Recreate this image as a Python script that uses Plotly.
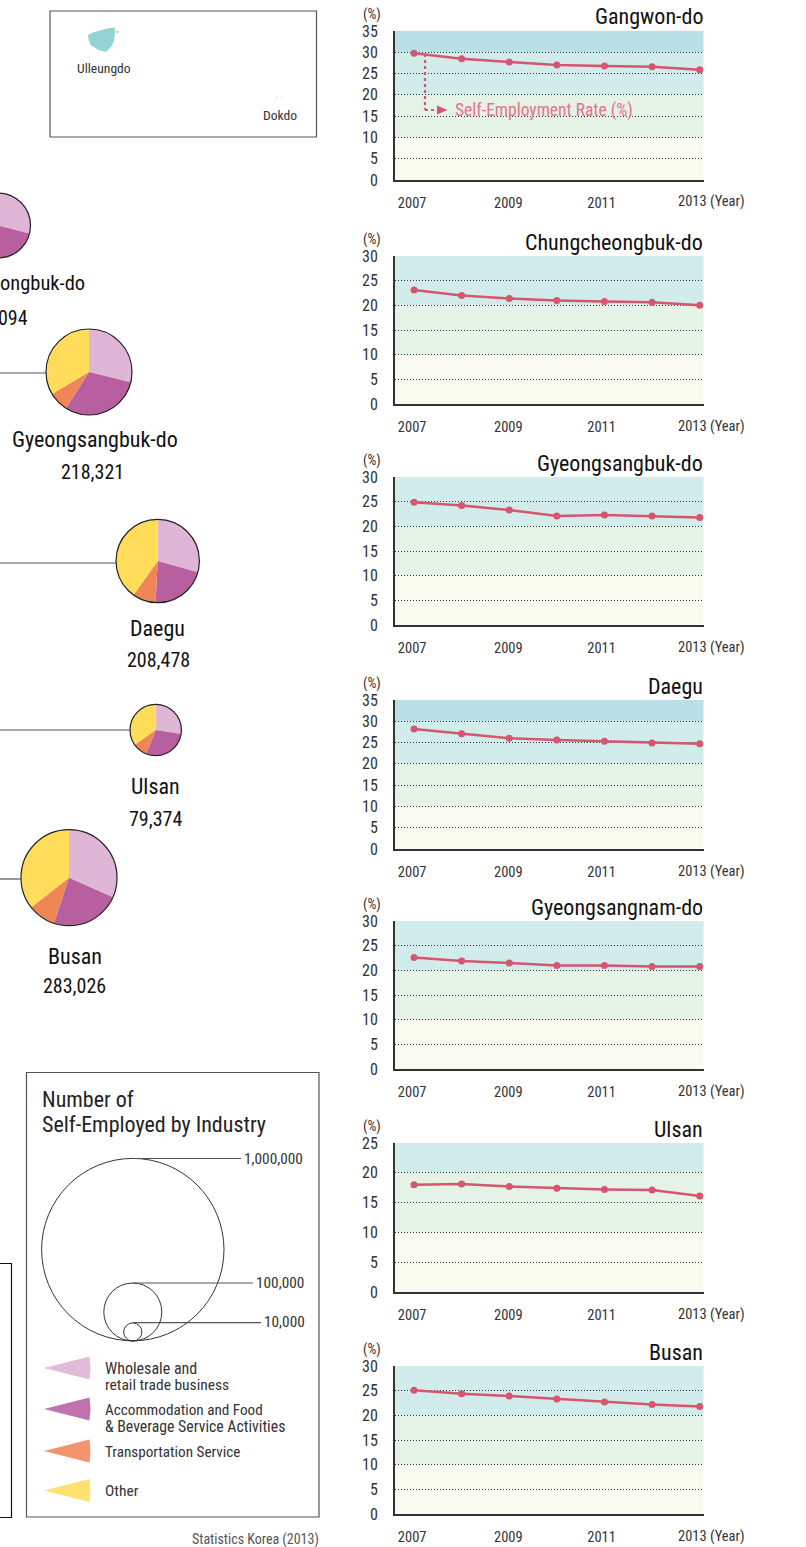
import plotly.graph_objects as go

# ---------- data ----------
years = [2007, 2008, 2009, 2010, 2011, 2012, 2013]
year_tick_pos = [2006.96, 2008.98, 2010.94, 2013]
year_tick_text = ["2007", "2009", "2011", ""]
gangwon = [29.8, 28.5, 27.7, 27.0, 26.8, 26.6, 25.9]
chungbuk = [23.1, 22.0, 21.4, 21.0, 20.8, 20.6, 20.0]
gyeongbuk = [24.9, 24.2, 23.3, 22.1, 22.3, 22.1, 21.8]
daegu = [28.2, 27.1, 26.0, 25.6, 25.3, 24.9, 24.7]
gyeongnam = [22.6, 21.9, 21.5, 21.0, 21.0, 20.8, 20.8]
ulsan = [18.0, 18.1, 17.7, 17.4, 17.2, 17.1, 16.1]
busan = [25.1, 24.4, 23.9, 23.3, 22.7, 22.2, 21.8]

line_names = ["Gangwon-do", "Chungcheongbuk-do", "Gyeongsangbuk-do", "Daegu",
              "Gyeongsangnam-do", "Ulsan", "Busan"]
line_values = [gangwon, chungbuk, gyeongbuk, daegu, gyeongnam, ulsan, busan]
y_max = [35, 30, 30, 35, 30, 25, 30]
band_edges = [0, 10, 20, 30, 40]
band_colors = ["#F9FBF0", "#E5F2E6", "#D2ECEC", "#B9E0E5"]
panel_top = [31, 256, 477, 700, 921, 1143, 1366]
panel_bot = [180, 404, 625, 849, 1069, 1292, 1514]

industries = ["Wholesale and retail trade business",
              "Accommodation and Food & Beverage Service Activities",
              "Transportation Service", "Other"]
pie_colors = ["#DFB6D6", "#B8609F", "#EF8656", "#FFDC5A"]
swatch_colors = ["#E2BBD9", "#BF72AE", "#F2936B", "#FFE170"]
pie_shares = {
    "Chungcheongbuk-do": [29, 28, 9, 34],
    "Gyeongsangbuk-do": [28.8, 30.2, 7.5, 33.5],
    "Daegu": [29.3, 21.5, 9.0, 40.2],
    "Ulsan": [27.5, 28.6, 9.1, 34.8],
    "Busan": [31.7, 23.4, 9.3, 35.6],
}
pie_geom = {  # centre x, centre y, radius, connector y
    "Chungcheongbuk-do": (-2, 225.5, 32.5, None),
    "Gyeongsangbuk-do": (89, 372, 43, 373),
    "Daegu": (157.7, 561, 41.7, 563),
    "Ulsan": (155.7, 730, 25.7, 730),
    "Busan": (69, 877.7, 48, 879),
}

# ---------- pixel helpers ----------
SHIFT = 40
W, H = 806 + SHIFT, 1547
FONT = "Roboto Condensed"
PX = lambda x: (x + SHIFT) / W
PY = lambda y: 1 - y / H

fig = go.Figure()
shapes, annos = [], []


def text(x, y, s, size=15, color="#222", anchor="left"):
    annos.append(dict(xref="paper", yref="paper", x=PX(x), y=PY(y), text=s, showarrow=False,
                      xanchor=anchor, yanchor="middle", borderpad=0, borderwidth=0,
                      font=dict(family=FONT, size=size, color=color)))


def line(x0, y0, x1, y1, color="#555", width=1.2, dash=None, layer="above"):
    shapes.append(dict(type="line", xref="paper", yref="paper", x0=PX(x0), x1=PX(x1), y0=PY(y0), y1=PY(y1),
                       layer=layer, line=dict(color=color, width=width, dash=dash)))


def rect(x0, y0, x1, y1, color="#555", width=1.2):
    shapes.append(dict(type="rect", xref="paper", yref="paper", x0=PX(x0), x1=PX(x1), y0=PY(y0), y1=PY(y1),
                       line=dict(color=color, width=width), fillcolor="rgba(0,0,0,0)"))


def circle(cx, cy, r, color="#222", width=1.2):
    shapes.append(dict(type="circle", xref="paper", yref="paper", x0=PX(cx - r), x1=PX(cx + r),
                       y0=PY(cy + r), y1=PY(cy - r), line=dict(color=color, width=width),
                       fillcolor="rgba(0,0,0,0)"))


def poly(points, fill):
    d = "M " + " L ".join(f"{PX(x):.5f} {PY(y):.5f}" for x, y in points)
    shapes.append(dict(type="path", xref="paper", yref="paper", path=d + " Z", fillcolor=fill,
                       line=dict(width=0)))


# ---------- line charts ----------
layout_axes = {}
for i, name in enumerate(line_names):
    n = "" if i == 0 else str(i + 1)
    top, bot = panel_top[i], panel_bot[i]
    fig.add_trace(go.Scatter(x=years, y=line_values[i], xaxis="x" + n, yaxis="y" + n, mode="lines+markers",
                             line=dict(color="#D6566F", width=2.5), marker=dict(color="#D6566F", size=7),
                             showlegend=False, hoverinfo="skip", cliponaxis=False))
    layout_axes["xaxis" + n] = dict(
        domain=[PX(395), PX(703.5)], range=[2006.6, 2013.08], anchor="y" + n, showgrid=False, zeroline=False,
        showline=True, linecolor="#333", linewidth=2, tickvals=year_tick_pos,
        ticktext=year_tick_text, ticks="outside", ticklen=9, tickcolor="rgba(0,0,0,0)",
        tickfont=dict(family=FONT, size=14.5, color="#333"))
    layout_axes["yaxis" + n] = dict(
        domain=[PY(bot), PY(top)], range=[0, y_max[i]], anchor="x" + n, dtick=5, zeroline=False, showgrid=True,
        gridcolor="#333", griddash="1px,2px", gridwidth=1, showline=True, linecolor="#333", linewidth=2,
        ticks="outside", ticklen=12, tickcolor="rgba(0,0,0,0)",
        tickfont=dict(family=FONT, size=16, color="#333"))
    for b in range(len(band_colors)):
        if band_edges[b] < y_max[i]:
            shapes.append(dict(type="rect", xref=f"x{n} domain", yref="y" + n, x0=0, x1=1,
                               y0=band_edges[b], y1=min(band_edges[b + 1], y_max[i]),
                               fillcolor=band_colors[b], line=dict(width=0), layer="below"))
    text(703, top - 14, name, size=22, color="#111", anchor="right")
    text(372, top - 16.5, "(%)", size=14, color="#333", anchor="center")
    text(745, bot + 22, "2013 (Year)", size=14.5, color="#333", anchor="right")

# self-employment callout on the first panel
line(425, 54, 425, 110, color="#D6566F", width=2.2, dash="dot")
line(425, 110, 441, 110, color="#D6566F", width=2.2, dash="dot")
poly([(437, 105.5), (447.5, 110), (437, 114.5)], "#D6566F")
text(455, 110.5, "Self-Employment Rate (%)", size=17.5, color="#E4758A")

# ---------- pies ----------
for name, (cx, cy, r, conn) in pie_geom.items():
    fig.add_trace(go.Pie(values=pie_shares[name], labels=industries, sort=False, direction="clockwise", rotation=0,
                         marker=dict(colors=pie_colors, line=dict(width=0)), textinfo="none", showlegend=False,
                         hoverinfo="skip",
                         domain=dict(x=[PX(cx - r), PX(cx + r)], y=[PY(cy + r), PY(cy - r)])))
    circle(cx, cy, r)
    if conn is not None:
        line(-5, conn, cx - r, conn)

NAME, NUM = 22, 20
text(85, 283, "ongbuk-do", size=20.5, color="#111", anchor="right")
text(28, 318, "094", size=NUM, color="#111", anchor="right")
text(94.5, 439, "Gyeongsangbuk-do", size=NAME, color="#111", anchor="center")
text(92, 472, "218,321", size=NUM, color="#111", anchor="center")
text(157.5, 628, "Daegu", size=NAME, color="#111", anchor="center")
text(158, 660, "208,478", size=NUM, color="#111", anchor="center")
text(155.5, 786, "Ulsan", size=NAME, color="#111", anchor="center")
text(155, 819, "79,374", size=NUM, color="#111", anchor="center")
text(75, 956, "Busan", size=NAME, color="#111", anchor="center")
text(74.5, 986, "283,026", size=NUM, color="#111", anchor="center")

# ---------- inset map ----------
rect(50, 11, 316.5, 137)
poly([(88, 35), (93, 32.5), (100, 30.5), (107, 28.5), (114.5, 27.5), (115, 32), (114, 41.5), (111.5, 46.5),
      (106, 52), (98.5, 50), (90.5, 45), (88.5, 39)], "#93D3D4")
poly([(116.5, 31), (118.5, 31), (118.5, 33), (116.5, 33)], "#93D3D4")
poly([(276, 96), (278, 96), (278, 98), (276, 98)], "#F3F3D0")
poly([(280.5, 97), (282.5, 97), (282.5, 99), (280.5, 99)], "#F3F3D0")
text(103.5, 68.5, "Ulleungdo", size=13.6, color="#333", anchor="center")
text(279.5, 115.5, "Dokdo", size=13.6, color="#333", anchor="center")

# ---------- legend box ----------
rect(-5, 1263.5, 11.5, 1517.5, color="#111")
rect(26.5, 1072.5, 319, 1517)
text(42, 1099, "Number of", size=22, color="#222")
text(42, 1124, "Self-Employed by Industry", size=22, color="#222")
circle(132.8, 1249.6, 91.2, color="#333", width=1)
circle(132.8, 1312, 29, color="#333", width=1)
circle(132.8, 1332, 9.1, color="#333", width=1)
line(133, 1158.5, 241, 1158.5)
line(133, 1283, 253, 1283)
line(133, 1322.7, 261, 1322.7)
text(244, 1158.5, "1,000,000", size=15.3, color="#333")
text(256, 1283, "100,000", size=15.3, color="#333")
text(264, 1322, "10,000", size=15.3, color="#333")

for yc, col in zip([1368, 1409, 1451, 1490.5], swatch_colors):
    poly([(44, yc), (89.5, yc - 11.5), (90.5, yc), (89.5, yc + 11.5)], col)
text(104.5, 1368, "Wholesale and", size=16, color="#333")
text(104.5, 1384.5, "retail trade business", size=15.5, color="#333")
text(104.5, 1410, "Accommodation and Food", size=15.2, color="#333")
text(104.5, 1426, "& Beverage Service Activities", size=15.8, color="#333")
text(104.5, 1452, "Transportation Service", size=15.2, color="#333")
text(104.5, 1491, "Other", size=15.5, color="#333")
text(319, 1539, "Statistics Korea (2013)", size=14, color="#555", anchor="right")

fig.update_layout(width=W, height=H, margin=dict(l=0, r=0, t=0, b=0, autoexpand=False), paper_bgcolor="white",
                  plot_bgcolor="rgba(0,0,0,0)", shapes=shapes, annotations=annos, showlegend=False,
                  font=dict(family=FONT), **layout_axes)

post = ("document.body.style.margin='0 0 0 -%dpx';"
        "document.documentElement.style.overflow='hidden';" % SHIFT)
fig.write_html("out.html", post_script=post, config=dict(displayModeBar=False))
